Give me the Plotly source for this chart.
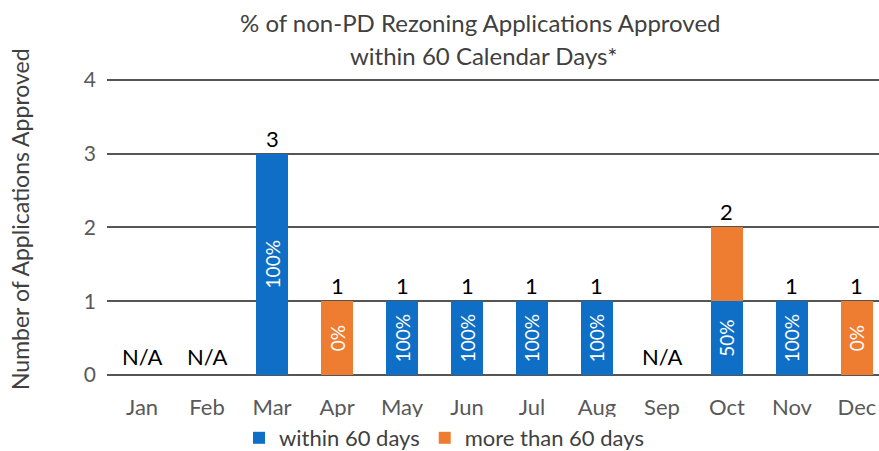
"""Rezoning approvals chart: stacked monthly counts with % labels."""

import plotly.graph_objects as go

months = ["Jan", "Feb", "Mar", "Apr", "May", "Jun", "Jul", "Aug", "Sep", "Oct", "Nov", "Dec"]
within_60 = [0, 0, 3, 0, 1, 1, 1, 1, 0, 1, 1, 0]
over_60 = [0, 0, 0, 1, 0, 0, 0, 0, 0, 1, 0, 1]
within_text = ["", "", "100%", "", "100%", "100%", "100%", "100%", "", "50%", "100%", ""]
over_text = ["", "", "", "0%", "", "", "", "", "", "", "", "0%"]
y_ticks = [0, 1, 2, 3, 4]

BLUE = "#0f6fc6"
ORANGE = "#ee7d31"
FONT = "Lato"
TEXT_GREY = "#404040"

fig = go.Figure()
fig.add_trace(go.Bar(
    x=months, y=within_60, name="within 60 days",
    marker=dict(color=BLUE, line_width=0),
    text=within_text, textposition="inside", textangle=-90,
    insidetextanchor="middle", constraintext="none",
    textfont=dict(color="white", size=19, family=FONT),
    width=0.5,
))
fig.add_trace(go.Bar(
    x=months, y=over_60, name="more than 60 days",
    marker=dict(color=ORANGE, line_width=0),
    text=over_text, textposition="inside", textangle=-90,
    insidetextanchor="middle", constraintext="none",
    textfont=dict(color="white", size=19, family=FONT),
    width=0.5,
))

# totals above bars, N/A where nothing was approved
annotations = []
for m, a, b in zip(months, within_60, over_60):
    total = a + b
    annotations.append(dict(
        x=m, y=total, xref="x", yref="y",
        text=str(total) if total else "N/A",
        showarrow=False, yanchor="bottom", yshift=0 if total else 3,
        font=dict(size=22, color="black", family=FONT),
    ))

PLOT_W = 879 - 107
PLOT_H = 375 - 76

# two-line title placed by hand to match line spacing
annotations.append(dict(
    x=(480 - 107) / PLOT_W, y=1 + (76 - 22) / PLOT_H, xref="paper", yref="paper",
    xanchor="center", yanchor="middle",
    text="% of non-PD Rezoning Applications Approved",
    showarrow=False, font=dict(size=24, color=TEXT_GREY, family=FONT),
))
annotations.append(dict(
    x=(483 - 107) / PLOT_W, y=1 + (76 - 55) / PLOT_H, xref="paper", yref="paper",
    xanchor="center", yanchor="middle",
    text="within 60 Calendar Days*",
    showarrow=False, font=dict(size=24, color=TEXT_GREY, family=FONT),
))
# y-axis title as a rotated annotation so it sits near the left edge
annotations.append(dict(
    x=(20 - 107) / PLOT_W, xanchor="center", xref="paper",
    y=1 - (219 - 76) / PLOT_H, yanchor="middle", yref="paper",
    text="Number of Applications Approved", textangle=-90,
    showarrow=False, font=dict(size=23, color=TEXT_GREY, family=FONT),
))

fig.update_layout(
    barmode="stack",
    width=879, height=451,
    margin=dict(l=107, r=0, t=76, b=76, autoexpand=False),
    plot_bgcolor="white", paper_bgcolor="white",
    font=dict(family=FONT),
    annotations=annotations,
    showlegend=True,
    legend=dict(
        orientation="h", traceorder="normal",
        x=(444 - 107) / PLOT_W, xanchor="center",
        y=-(438 - 375) / PLOT_H, yanchor="middle",
        font=dict(size=22, color=TEXT_GREY),
        itemwidth=30, tracegroupgap=0,
    ),
    xaxis=dict(
        range=[-0.54, 11.34], automargin=False,
        showgrid=False, showline=False, zeroline=False,
        ticks="", ticklabelstandoff=17,
        tickfont=dict(size=22, color="#595959"),
    ),
    yaxis=dict(
        range=[0, 4.05], tickvals=y_ticks, automargin=False,
        showgrid=True, gridcolor="#555555", gridwidth=1.5,
        zeroline=True, zerolinecolor="#555555", zerolinewidth=1.5,
        showline=False, ticks="", ticklabelstandoff=10,
        tickfont=dict(size=21, color="#595959"),
    ),
)

# drop the default 8px body margin so the figure fills the window
fig.write_html(
    "out.html",
    config={"displayModeBar": False},
    post_script="document.body.style.margin = '0';",
)
